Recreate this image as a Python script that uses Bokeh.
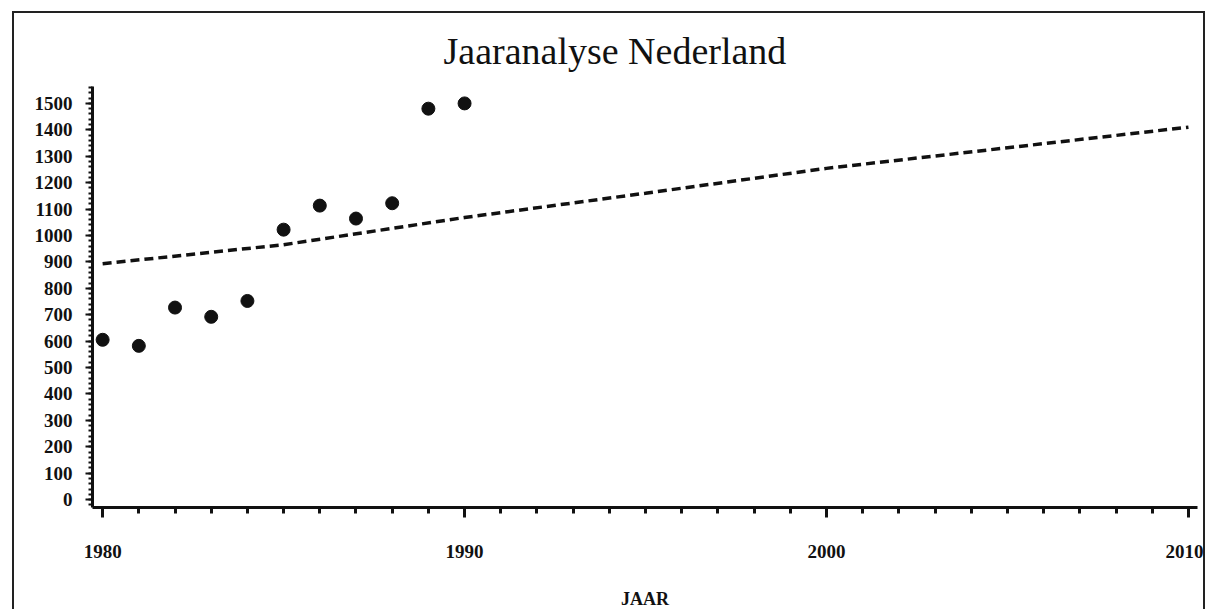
from bokeh.plotting import figure
from bokeh.models import Range1d, FixedTicker, SingleIntervalTicker, Title
from bokeh.embed import file_html
from bokeh.resources import INLINE

# data
years = [1980, 1981, 1982, 1983, 1984, 1985, 1986, 1987, 1988, 1989, 1990]
values = [605, 582, 727, 692, 752, 1022, 1113, 1064, 1122, 1480, 1500]
trend_years = [1980, 1985, 1990, 1995, 2000, 2005, 2010]
trend_values = [893, 965, 1068, 1160, 1254, 1332, 1410]
x_major = [1980, 1990, 2000, 2010]
x_minor = list(range(1980, 2011))
title_text = "Jaaranalyse Nederland"
x_label = "JAAR"

FONT = "Liberation Serif"

p = figure(width=1193, height=598, output_backend="svg", toolbar_location=None,
           x_range=Range1d(1979.72, 2010.25), y_range=Range1d(-30, 1564),
           min_border_left=78, min_border_right=10, min_border_top=73,
           min_border_bottom=101)
p.styles = {"border-left": "2px solid #222", "border-top": "2px solid #222",
            "border-right": "2px solid #222",
            "margin-left": "12px", "margin-top": "11px"}

t = Title(text=title_text, text_font=FONT, text_font_size="38px",
          text_font_style="normal", align="left", text_color="#111",
          standoff=29, offset=351)
p.add_layout(t, "above")

p.outline_line_color = None
p.xgrid.visible = False
p.ygrid.visible = False
p.background_fill_color = "white"
p.border_fill_color = "white"

xa = p.xaxis[0]
xa.ticker = FixedTicker(ticks=x_major, minor_ticks=x_minor)
xa.axis_line_width = 3
xa.axis_line_color = "#111"
xa.major_tick_line_width = 3
xa.minor_tick_line_width = 3
xa.major_tick_out = 10
xa.major_tick_in = 0
xa.minor_tick_out = 6
xa.minor_tick_in = 0
xa.major_tick_line_color = "#111"
xa.minor_tick_line_color = "#111"
xa.major_label_text_font = FONT
xa.major_label_text_font_size = "19px"
xa.major_label_text_font_style = "bold"
xa.major_label_text_color = "#111"
xa.major_label_standoff = 27
xa.axis_label = x_label
xa.axis_label_text_font = FONT
xa.axis_label_text_font_size = "18px"
xa.axis_label_text_font_style = "bold"
xa.axis_label_text_color = "#111"
xa.axis_label_standoff = 28

ya = p.yaxis[0]
ya.ticker = SingleIntervalTicker(interval=100, num_minor_ticks=5)
ya.axis_line_width = 3
ya.axis_line_color = "#111"
ya.major_tick_line_width = 2
ya.minor_tick_line_width = 2
ya.major_tick_out = 7
ya.major_tick_in = 0
ya.minor_tick_out = 4
ya.minor_tick_in = 0
ya.major_tick_line_color = "#111"
ya.minor_tick_line_color = "#111"
ya.major_label_text_font = FONT
ya.major_label_text_font_size = "19px"
ya.major_label_text_font_style = "bold"
ya.major_label_text_color = "#111"
ya.major_label_standoff = 13

p.line(trend_years, trend_values, line_color="#111", line_width=3.5, line_dash="9 5")
p.scatter(years, values, size=13, color="#111")

open("out.html", "w").write(file_html(p, INLINE))
